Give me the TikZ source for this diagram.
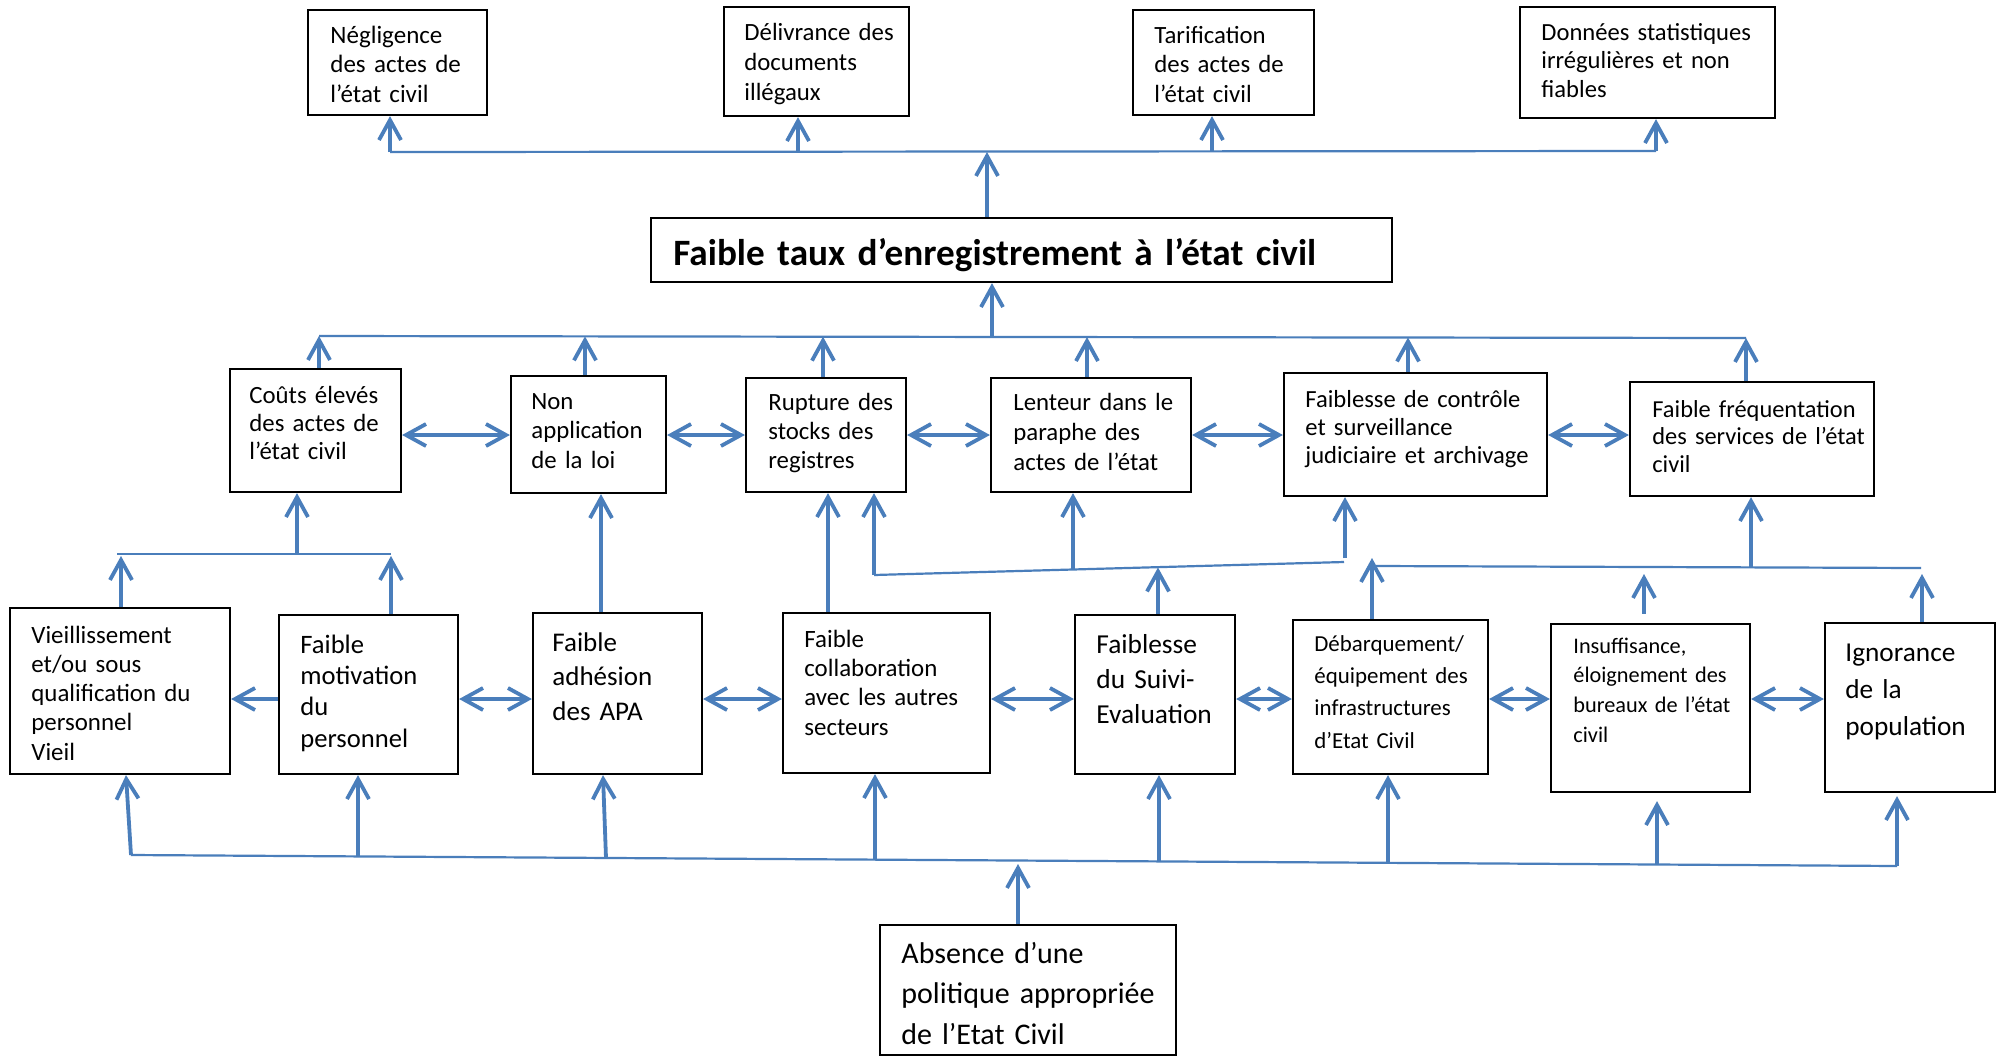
\documentclass[tikz,border=0pt]{standalone}
\usepackage{fontspec}
\setmainfont{Carlito}
\usetikzlibrary{arrows.meta,fit}
\definecolor{ablue}{RGB}{74,126,187}
\begin{document}
\begin{tikzpicture}[x=0.5pt,y=-0.5pt,
  >={Straight Barb[length=10pt,width=11pt]},
  box/.style={draw=black,line width=1.1pt,fill=white,inner sep=0pt},
  txt/.style={anchor=base west,inner sep=0pt,align=left,text width=250pt},
  conn/.style={draw=ablue,line width=1.9pt},
  arr/.style={conn,->},
  dbl/.style={conn,<->},
  bus/.style={draw=ablue,line width=1.1pt}]
\fill[white] (0,0) rectangle (1999,1056);
\useasboundingbox (0,0) rectangle (1999,1056);

% ---------- boxes ----------
\node[box,fit={(308,10) (487,115)}] (negl) {};
\node[box,fit={(724,7) (909,116)}] (deliv) {};
\node[box,fit={(1133,10) (1314,115)}] (tarif) {};
\node[box,fit={(1520,7) (1775,118)}] (donn) {};
\node[box,fit={(651,218) (1392,282)}] (main) {};
\node[box,fit={(230,369) (401,492)}] (couts) {};
\node[box,fit={(511,376) (666,493)}] (nonapp) {};
\node[box,fit={(746,378) (906,492)}] (rupt) {};
\node[box,fit={(991,378) (1191,492)}] (lent) {};
\node[box,fit={(1284,373) (1547,496)}] (ctrl) {};
\node[box,fit={(1630,382) (1874,496)}] (freq) {};
\node[box,fit={(10,608) (230,774)}] (vieil) {};
\node[box,fit={(279,615) (458,774)}] (motiv) {};
\node[box,fit={(533,613) (702,774)}] (adh) {};
\node[box,fit={(783,613) (990,773)}] (collab) {};
\node[box,fit={(1075,615) (1235,774)}] (suivi) {};
\node[box,fit={(1293,620) (1488,774)}] (deb) {};
\node[box,fit={(1551,624) (1750,792)}] (insuf) {};
\node[box,fit={(1825,623) (1995,792)}] (ignor) {};
\node[box,fit={(880,925) (1176,1055)}] (absn) {};

% ---------- texts ----------
\node[txt,font={\fontsize{12.5pt}{14.85pt}\selectfont}] (negl-t) at (330,43) {Négligence\\des actes de\\l’état civil};
\node[txt,font={\fontsize{12.4pt}{15pt}\selectfont}] (deliv-t) at (744,40) {Délivrance des\\documents\\illégaux};
\node[txt,font={\fontsize{12.4pt}{14.75pt}\selectfont}] (tarif-t) at (1154,43) {Tarification\\des actes de\\l’état civil};
\node[txt,font={\fontsize{12.3pt}{14.35pt}\selectfont}] (donn-t) at (1541,40) {Données statistiques\\irrégulières et non\\fiables};
\node[txt,text width=400pt,font={\fontsize{18.6pt}{22pt}\selectfont\bfseries\spaceskip=0.2em}] (main-t) at (673,265) {Faible taux d’enregistrement à l’état civil};

\node[txt,font={\fontsize{12.4pt}{14pt}\selectfont}] (couts-t) at (249,403) {Coûts élevés\\des actes de\\l’état civil};
\node[txt,font={\fontsize{12.4pt}{14.75pt}\selectfont}] (nonapp-t) at (531,409) {Non\\application\\de la loi};
\node[txt,font={\fontsize{12.4pt}{14.5pt}\selectfont}] (rupt-t) at (768,410) {Rupture des\\stocks des\\registres};
\node[txt,font={\fontsize{12.4pt}{15pt}\selectfont}] (lent-t) at (1013,410) {Lenteur dans le\\paraphe des\\actes de l’état};
\node[txt,font={\fontsize{12.3pt}{14.15pt}\selectfont}] (ctrl-t) at (1305,407) {Faiblesse de contrôle\\et surveillance\\judiciaire et archivage};
\node[txt,font={\fontsize{12.2pt}{13.85pt}\selectfont}] (freq-t) at (1652,417) {Faible fréquentation\\des services de l’état\\civil};

\node[txt,font={\fontsize{12.45pt}{14.65pt}\selectfont}] (vieil-t) at (31,643) {Vieillissement\\et/ou sous\\qualification du\\personnel\\Vieil};
\node[txt,font={\fontsize{13.3pt}{15.7pt}\selectfont}] (motiv-t) at (300,653) {Faible\\motivation\\du\\personnel};
\node[txt,font={\fontsize{13.5pt}{17.25pt}\selectfont}] (adh-t) at (552,651) {Faible\\adhésion\\des APA};
\node[txt,font={\fontsize{12.45pt}{14.7pt}\selectfont}] (collab-t) at (804,647) {Faible\\collaboration\\avec les autres\\secteurs};
\node[txt,font={\fontsize{13.7pt}{17.5pt}\selectfont}] (suivi-t) at (1096,653) {Faiblesse\\du Suivi-\\Evaluation};
\node[txt,font={\fontsize{11.45pt}{16.2pt}\selectfont}] (deb-t) at (1314,651) {Débarquement/\\équipement des\\infrastructures\\d’Etat Civil};
\node[txt,font={\fontsize{11.15pt}{14.9pt}\selectfont}] (insuf-t) at (1573,653) {Insuffisance,\\éloignement des\\bureaux de l’état\\civil};
\node[txt,font={\fontsize{13.65pt}{18.5pt}\selectfont}] (ignor-t) at (1845,661) {Ignorance\\de la\\population};
\node[txt,font={\fontsize{15pt}{20.25pt}\selectfont}] (absn-t) at (901,963) {Absence d’une\\politique appropriée\\de l’Etat Civil};

% ---------- top level ----------
\coordinate (tb1) at (390,152);
\coordinate (tb2) at (798,151.5);
\coordinate (tb3) at (1212,151);
\coordinate (tb4) at (1656,151);
\coordinate (tbm) at (987,152);
\draw[bus] (tb1) -- (tb4);
\draw[arr] (tb1) -- (tb1 |- negl.south);
\draw[arr] (tb2) -- (tb2 |- deliv.south);
\draw[arr] (tb3) -- (tb3 |- tarif.south);
\draw[arr] (tb4) -- (tb4 |- donn.south);
\draw[arr] (tbm |- main.north) -- (tbm);

% ---------- middle bus ----------
\coordinate (mb1) at (319,336);
\coordinate (mb2) at (585,336.4);
\coordinate (mb3) at (823,336.7);
\coordinate (mbm) at (992,336.9);
\coordinate (mb4) at (1087,337.1);
\coordinate (mb5) at (1408,337.5);
\coordinate (mb6) at (1746,338);
\draw[bus] (mb1) -- (mb6);
\draw[arr] (mbm) -- (mbm |- main.south);
\draw[arr] (mb1 |- couts.north) -- (mb1);
\draw[arr] (mb2 |- nonapp.north) -- (mb2);
\draw[arr] (mb3 |- rupt.north) -- (mb3);
\draw[arr] (mb4 |- lent.north) -- (mb4);
\draw[arr] (mb5 |- ctrl.north) -- (mb5);
\draw[arr] (mb6 |- freq.north) -- (mb6);

% middle double arrows
\coordinate (ym) at (0,435);
\draw[dbl] (couts.east |- ym) -- (nonapp.west |- ym);
\draw[dbl] (nonapp.east |- ym) -- (rupt.west |- ym);
\draw[dbl] (rupt.east |- ym) -- (lent.west |- ym);
\draw[dbl] (lent.east |- ym) -- (ctrl.west |- ym);
\draw[dbl] (ctrl.east |- ym) -- (freq.west |- ym);

% ---------- links bottom row -> middle row ----------
\coordinate (cbL) at (117,554);
\coordinate (cbR) at (391,554);
\coordinate (cbm) at (297,554);
\draw[bus] (cbL) -- (cbR);
\draw[arr] (cbm) -- (cbm |- couts.south);
\coordinate (cv) at (121,556);
\coordinate (cm) at (391,556);
\draw[arr] (cv |- vieil.north) -- (cv);
\draw[arr] (cm |- motiv.north) -- (cm);

\coordinate (na) at (601,550);
\draw[arr] (adh.north -| na) -- (nonapp.south -| na);
\coordinate (rc) at (828,550);
\draw[arr] (collab.north -| rc) -- (rupt.south -| rc);

\coordinate (b4L) at (874,575);
\coordinate (b4R) at (1344,562);
\coordinate (b4a) at (1073,569);
\coordinate (b4c) at (1345,558);
\coordinate (b4s) at (1158,567.5);
\draw[bus] (b4L) -- (b4R);
\draw[arr] (b4L) -- (b4L |- rupt.south);
\draw[arr] (b4a) -- (b4a |- lent.south);
\draw[arr] (b4c) -- (b4c |- ctrl.south);
\draw[arr] (b4s |- suivi.north) -- (b4s);

\coordinate (b5L) at (1376,566);
\coordinate (b5R) at (1921,568);
\coordinate (b5d) at (1372,558);
\coordinate (b5f) at (1751,567);
\coordinate (b5i) at (1644,574);
\coordinate (b5g) at (1922,574);
\draw[bus] (b5L) -- (b5R);
\draw[arr] (b5d |- deb.north) -- (b5d);
\draw[arr] (b5f) -- (b5f |- freq.south);
\draw[arr,shorten <=4.5pt] (b5i |- insuf.north) -- (b5i);
\draw[arr] (b5g |- ignor.north) -- (b5g);

% bottom double arrows
\coordinate (yb) at (0,699);
\draw[conn,<-] (vieil.east |- yb) -- (motiv.west |- yb);
\draw[dbl] (motiv.east |- yb) -- (adh.west |- yb);
\draw[dbl] (adh.east |- yb) -- (collab.west |- yb);
\draw[dbl] (collab.east |- yb) -- (suivi.west |- yb);
\draw[dbl] (suivi.east |- yb) -- (deb.west |- yb);
\draw[dbl] (deb.east |- yb) -- (insuf.west |- yb);
\draw[dbl] (insuf.east |- yb) -- (ignor.west |- yb);

% ---------- bottom bus ----------
\coordinate (bbL) at (131,855);
\coordinate (bbR) at (1897,866);
\draw[bus] (bbL) -- (bbR);
\coordinate (bv) at (126,800);
\draw[arr] (bbL) -- (vieil.south -| bv);
\coordinate (bm) at (358,856.4);
\draw[arr] (bm) -- (bm |- motiv.south);
\coordinate (ba1) at (606,858);
\coordinate (ba2) at (603,800);
\draw[arr] (ba1) -- (adh.south -| ba2);
\coordinate (bc) at (875,859.6);
\draw[arr] (bc) -- (bc |- collab.south);
\coordinate (bs) at (1159,861.4);
\draw[arr] (bs) -- (bs |- suivi.south);
\coordinate (bd) at (1388,862.8);
\draw[arr] (bd) -- (bd |- deb.south);
\coordinate (bi) at (1657,864.5);
\draw[arr,shorten >=4pt] (bi) -- (bi |- insuf.south);
\draw[arr,shorten >=1.5pt] (bbR) -- (bbR |- ignor.south);
\coordinate (bab) at (1018,864);
\draw[arr] (bab |- absn.north) -- (bab);
\end{tikzpicture}
\end{document}
